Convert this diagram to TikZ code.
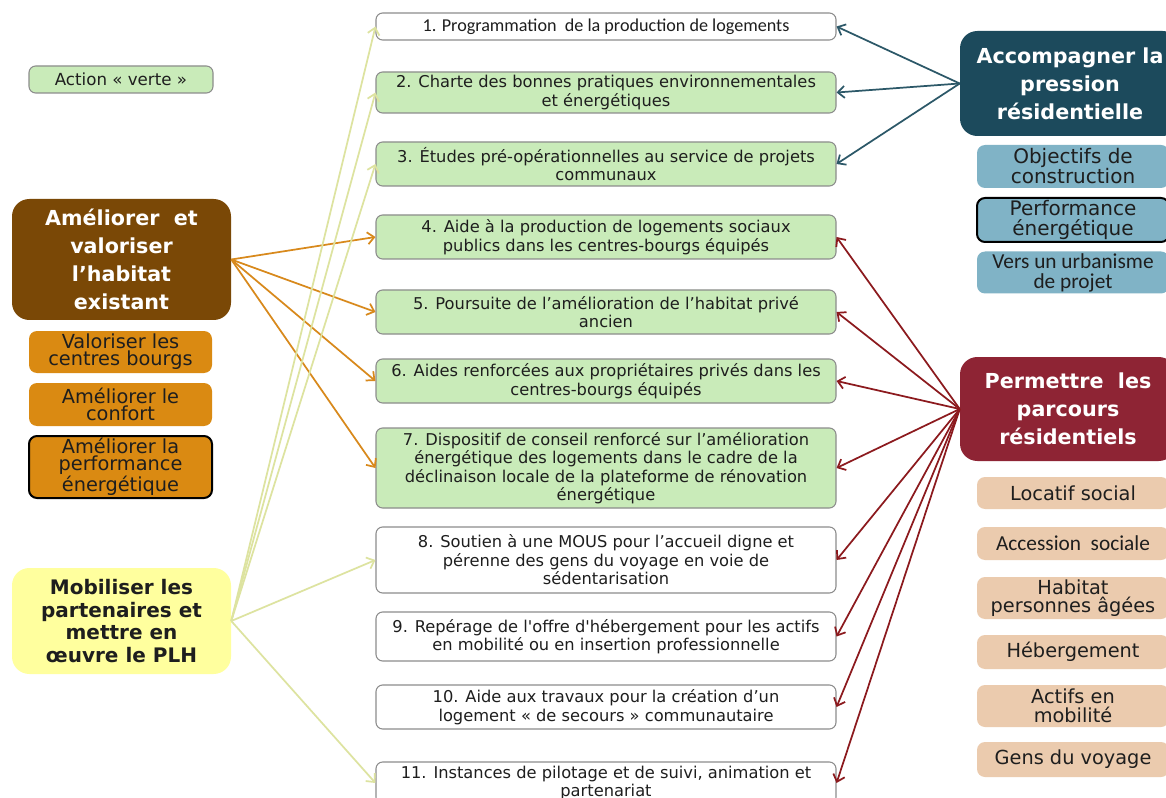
\documentclass[tikz,border=0pt]{standalone}
\usepackage{fontspec}
\setmainfont{DejaVu Sans}
\newfontfamily\carlito{Carlito}
\usetikzlibrary{arrows.meta}

\definecolor{leafgreen}{HTML}{C9EBB9}
\definecolor{framegray}{HTML}{8C8C8C}
\definecolor{inkdark}{HTML}{1E1E1E}
\definecolor{brownaxis}{HTML}{7A4806}
\definecolor{orangesub}{HTML}{DA8A12}
\definecolor{paleyellow}{HTML}{FFFF9E}
\definecolor{tealaxis}{HTML}{1C4A5C}
\definecolor{bluesub}{HTML}{80B3C6}
\definecolor{redaxis}{HTML}{8E2434}
\definecolor{beigesub}{HTML}{EBCBAE}
\definecolor{orangelink}{HTML}{D8891C}
\definecolor{yellowlink}{HTML}{DDE3A0}
\definecolor{teallink}{HTML}{2C5868}
\definecolor{redlink}{HTML}{8C1A1E}

\begin{document}
\begin{tikzpicture}[x=0.75pt, y=-0.75pt,
    every node/.style={inner sep=0pt, align=center, text=inkdark},
    actionbox/.style={draw=framegray, line width=0.8pt, rounded corners=5pt,
      minimum width=345pt, font=\fontsize{12.2}{13.8}\selectfont},
    greenaction/.style={actionbox, fill=leafgreen},
    plainaction/.style={actionbox, fill=white},
    axisbox/.style={rounded corners=13pt, text=white,
      font=\bfseries\fontsize{15.5}{21}\selectfont},
    leftsub/.style={fill=orangesub, rounded corners=6pt, minimum width=137.25pt,
      font=\fontsize{14.5}{12.8}\selectfont},
    bluebox/.style={fill=bluesub, rounded corners=6pt, minimum width=144pt,
      font=\fontsize{15}{15}\selectfont},
    beigebox/.style={fill=beigesub, rounded corners=6pt, minimum width=144pt,
      font=\fontsize{14.5}{14}\selectfont},
    link/.style={line width=1.3pt, -{Straight Barb[length=5pt,width=9pt]}}]

    % Frame
    \useasboundingbox (0,0) rectangle (1166,798);
    \fill[white] (0,0) rectangle (1166,798);
    \clip (0,0) rectangle (1166,798);

    % Legend
    \node[greenaction, minimum width=138pt, minimum height=20.25pt,
      font=\fontsize{12.5}{14}\selectfont] (legend) at (121,79.5) {Action « verte »};

    % Left axes
    \node[axisbox, fill=brownaxis, minimum width=164.25pt, minimum height=90.75pt]
      (improve) at (121.5,259.5) {Améliorer~ et\\valoriser\\l’habitat\\existant};
    \node[leftsub, minimum height=31.5pt] (centres) at (120.5,352) {Valoriser les\\centres bourgs};
    \node[leftsub, minimum height=32.25pt] (comfort) at (120.5,404.5) {Améliorer le\\confort};
    \node[leftsub, minimum height=46.5pt, draw=black, line width=1.5pt]
      (energyleft) at (120.5,467) {Améliorer la\\performance\\énergétique};
    \node[axisbox, fill=paleyellow, text=inkdark, minimum width=164.25pt, minimum height=79.5pt,
      font=\bfseries\fontsize{15}{16.8}\selectfont]
      (mobilise) at (121.5,621) {Mobiliser les\\partenaires et\\mettre en\\œuvre le PLH};

    % Actions
    \node[plainaction, minimum height=20.25pt, font=\carlito\fontsize{13.6}{15}\selectfont]
      (b1) at (606,26.5) {1. Programmation~ de la production de logements};
    \node[greenaction, minimum height=30.75pt] (b2) at (606,92.5)
      {2. Charte des bonnes pratiques environnementales\\et énergétiques};
    \node[greenaction, minimum height=33pt] (b3) at (606,164)
      {3. Études pré-opérationnelles au service de projets\\communaux};
    \node[greenaction, minimum height=33pt] (b4) at (606,237)
      {4. Aide à la production de logements sociaux\\publics dans les centres-bourgs équipés};
    \node[greenaction, minimum height=33pt] (b5) at (606,312)
      {5. Poursuite de l’amélioration de l’habitat privé\\ancien};
    \node[greenaction, minimum height=33pt] (b6) at (606,381)
      {6. Aides renforcées aux propriétaires privés dans les\\centres-bourgs équipés};
    \node[greenaction, minimum height=60pt] (b7) at (606,468)
      {7. Dispositif de conseil renforcé sur l’amélioration\\énergétique des logements dans le cadre de la\\déclinaison locale de la plateforme de rénovation\\énergétique};
    \node[plainaction, minimum height=49.5pt] (b8) at (606,560)
      {8. Soutien à une MOUS pour l’accueil digne et\\pérenne des gens du voyage en voie de\\sédentarisation};
    \node[plainaction, minimum height=36.75pt] (b9) at (606,636.5)
      {9. Repérage de l\textquotesingle offre d\textquotesingle hébergement pour les actifs\\en mobilité ou en insertion professionnelle};
    \node[plainaction, minimum height=33pt] (b10) at (606,707)
      {10. Aide aux travaux pour la création d’un\\logement « de secours » communautaire};
    \node[plainaction, minimum height=31.5pt] (b11) at (606,783)
      {11. Instances de pilotage et de suivi, animation et\\partenariat};

    % Right axes
    \node[axisbox, fill=tealaxis, minimum width=165pt, minimum height=78.75pt]
      (pressure) at (1070,83.5) {Accompagner la\\pression\\résidentielle};
    \node[bluebox, minimum height=32.25pt] (targets) at (1073,166.5) {Objectifs de\\construction};
    \node[bluebox, minimum height=33pt, draw=black, line width=1.5pt]
      (energyright) at (1073,220) {Performance\\énergétique};
    \node[bluebox, minimum height=31.5pt, font=\carlito\fontsize{16}{15}\selectfont]
      (planning) at (1073,272.5) {Vers un urbanisme\\de projet};
    \node[axisbox, fill=redaxis, minimum width=162pt, minimum height=78pt]
      (pathways) at (1068,409) {Permettre~ les\\parcours\\résidentiels};
    \node[beigebox, minimum height=24pt] (rental) at (1073,493) {Locatif social};
    \node[beigebox, minimum height=24.75pt, font=\carlito\fontsize{16}{16}\selectfont]
      (ownership) at (1073,543.5) {Accession~ sociale};
    \node[beigebox, minimum height=31.5pt] (elderly) at (1073,598) {Habitat\\personnes âgées};
    \node[beigebox, minimum height=25.5pt] (shelter) at (1073,652) {Hébergement};
    \node[beigebox, minimum height=31.5pt] (mobile) at (1073,706) {Actifs en\\mobilité};
    \node[beigebox, minimum height=26.25pt] (travellers) at (1073,759.5) {Gens du voyage};

    % Links
    \foreach \b in {b4,b5,b6,b7}
      \draw[link, draw=orangelink] (improve.east) -- (\b.west);
    \foreach \b in {b1,b2,b3,b8,b11}
      \draw[link, draw=yellowlink] (mobilise.east) -- (\b.west);
    \foreach \b in {b1,b2,b3}
      \draw[link, draw=teallink] (pressure.west) -- (\b.east);
    \foreach \b in {b4,b5,b6,b7,b8,b9,b10,b11}
      \draw[link, draw=redlink] (pathways.west) -- (\b.east);
\end{tikzpicture}
\end{document}
